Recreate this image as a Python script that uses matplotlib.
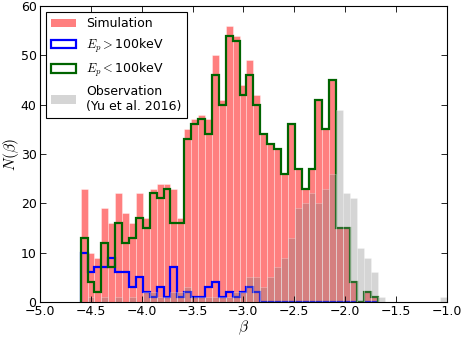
"""
Beta distribution of the simulated bursts vs. the observed sample.
"""

import matplotlib
matplotlib.use('Agg')
import matplotlib.pyplot as plt
from matplotlib.patches import Patch
import numpy as np

# common bin grid (53 bins from -4.6 to -1.0)
BIN_LO = -4.6
BIN_HI = -1.0
N_BINS = 53

# counts per bin
# Ep < 100 keV (first 43 bins)
low_ep = [13, 4, 2, 12, 7, 16, 12, 13, 17, 15,
          22, 21, 23, 16, 16, 33, 36, 37, 34, 46,
          40, 54, 53, 42, 46, 40, 34, 32, 31, 26,
          36, 27, 23, 27, 41, 35, 45, 15, 15, 4,
          0, 2, 1]
# Ep > 100 keV
high_ep = [10, 6, 7, 7, 9, 6, 6, 3, 5, 2,
           1, 3, 1, 7, 1, 2, 1, 1, 3, 4,
           1, 2, 1, 2, 3, 2, 0, 0, 0, 0,
           0, 0, 0, 0, 0, 0, 0, 0, 0, 0,
           0, 0, 0]
# all simulated bursts
simulation = [23, 10, 9, 19, 16, 22, 18, 16, 22, 17,
              23, 24, 24, 23, 17, 35, 37, 38, 37, 50,
              41, 56, 54, 44, 49, 42, 34, 32, 31, 26,
              36, 27, 23, 27, 41, 35, 45, 15, 15, 4,
              0, 2, 1]
# Yu et al. 2016 sample (all 53 bins)
observation = [0, 1, 0, 1, 0, 1, 0, 1, 0, 2,
               2, 1, 1, 2, 2, 3, 1, 1, 1, 1,
               1, 1, 2, 2, 5, 5, 3, 5, 7, 9,
               13, 19, 20, 22, 20, 23, 26, 39, 22, 21,
               11, 9, 6, 1, 0, 0, 0, 0, 0, 0,
               0, 0, 1]

plt.rcParams['mathtext.fontset'] = 'cm'
plt.rcParams['font.family'] = 'DejaVu Sans'

edges = np.linspace(BIN_LO, BIN_HI, N_BINS + 1)
n_sim = len(simulation)
sim_edges = edges[:n_sim + 1]
widths = np.diff(edges)

fig = plt.figure(figsize=(4.64, 3.39), dpi=100)
ax = fig.add_axes([0.0862, 0.1091, 0.8765, 0.8732])

# simulation bars
ax.bar(sim_edges[:-1], simulation, width=widths[:n_sim], align='edge',
       color='red', alpha=0.5, edgecolor='white', linewidth=0.5)

# Ep split as step outlines
ax.stairs(high_ep, sim_edges, color='blue', linewidth=1.6)
ax.stairs(low_ep, sim_edges, color='darkgreen', linewidth=1.6)

# observed sample
ax.bar(edges[:-1], observation, width=widths, align='edge',
       color='gray', alpha=0.33, edgecolor='white', linewidth=0.5)

ax.set_xlim(-5.0, -1.0)
ax.set_ylim(0, 60)
ax.set_xticks(np.arange(-5.0, -0.99, 0.5))
ax.set_yticks(np.arange(0, 61, 10))
ax.tick_params(direction='in', top=True, right=True, length=4, width=0.6,
               labelsize=9, pad=2.5)
for sp in ax.spines.values():
    sp.set_linewidth(0.8)

ax.set_xlabel(r'$\beta$', fontsize=11, labelpad=0)
ax.set_ylabel(r'$N(\beta)$', fontsize=11, labelpad=0)

handles = [
    Patch(facecolor='red', alpha=0.5, edgecolor='none'),
    Patch(facecolor='none', edgecolor='blue', linewidth=1.6),
    Patch(facecolor='none', edgecolor='darkgreen', linewidth=1.6),
    Patch(facecolor='gray', alpha=0.33, edgecolor='none'),
]
labels = ['Simulation', r'$E_p>$100keV', r'$E_p<$100keV',
          'Observation\n(Yu et al. 2016)']
leg = ax.legend(handles, labels, loc='upper left', fontsize=9,
                fancybox=False, framealpha=1, edgecolor='black',
                handlelength=2.0, borderaxespad=0.5, labelspacing=0.5)
leg.get_frame().set_linewidth(0.8)

fig.savefig('out.png', dpi=100, facecolor='white')
plt.close(fig)
